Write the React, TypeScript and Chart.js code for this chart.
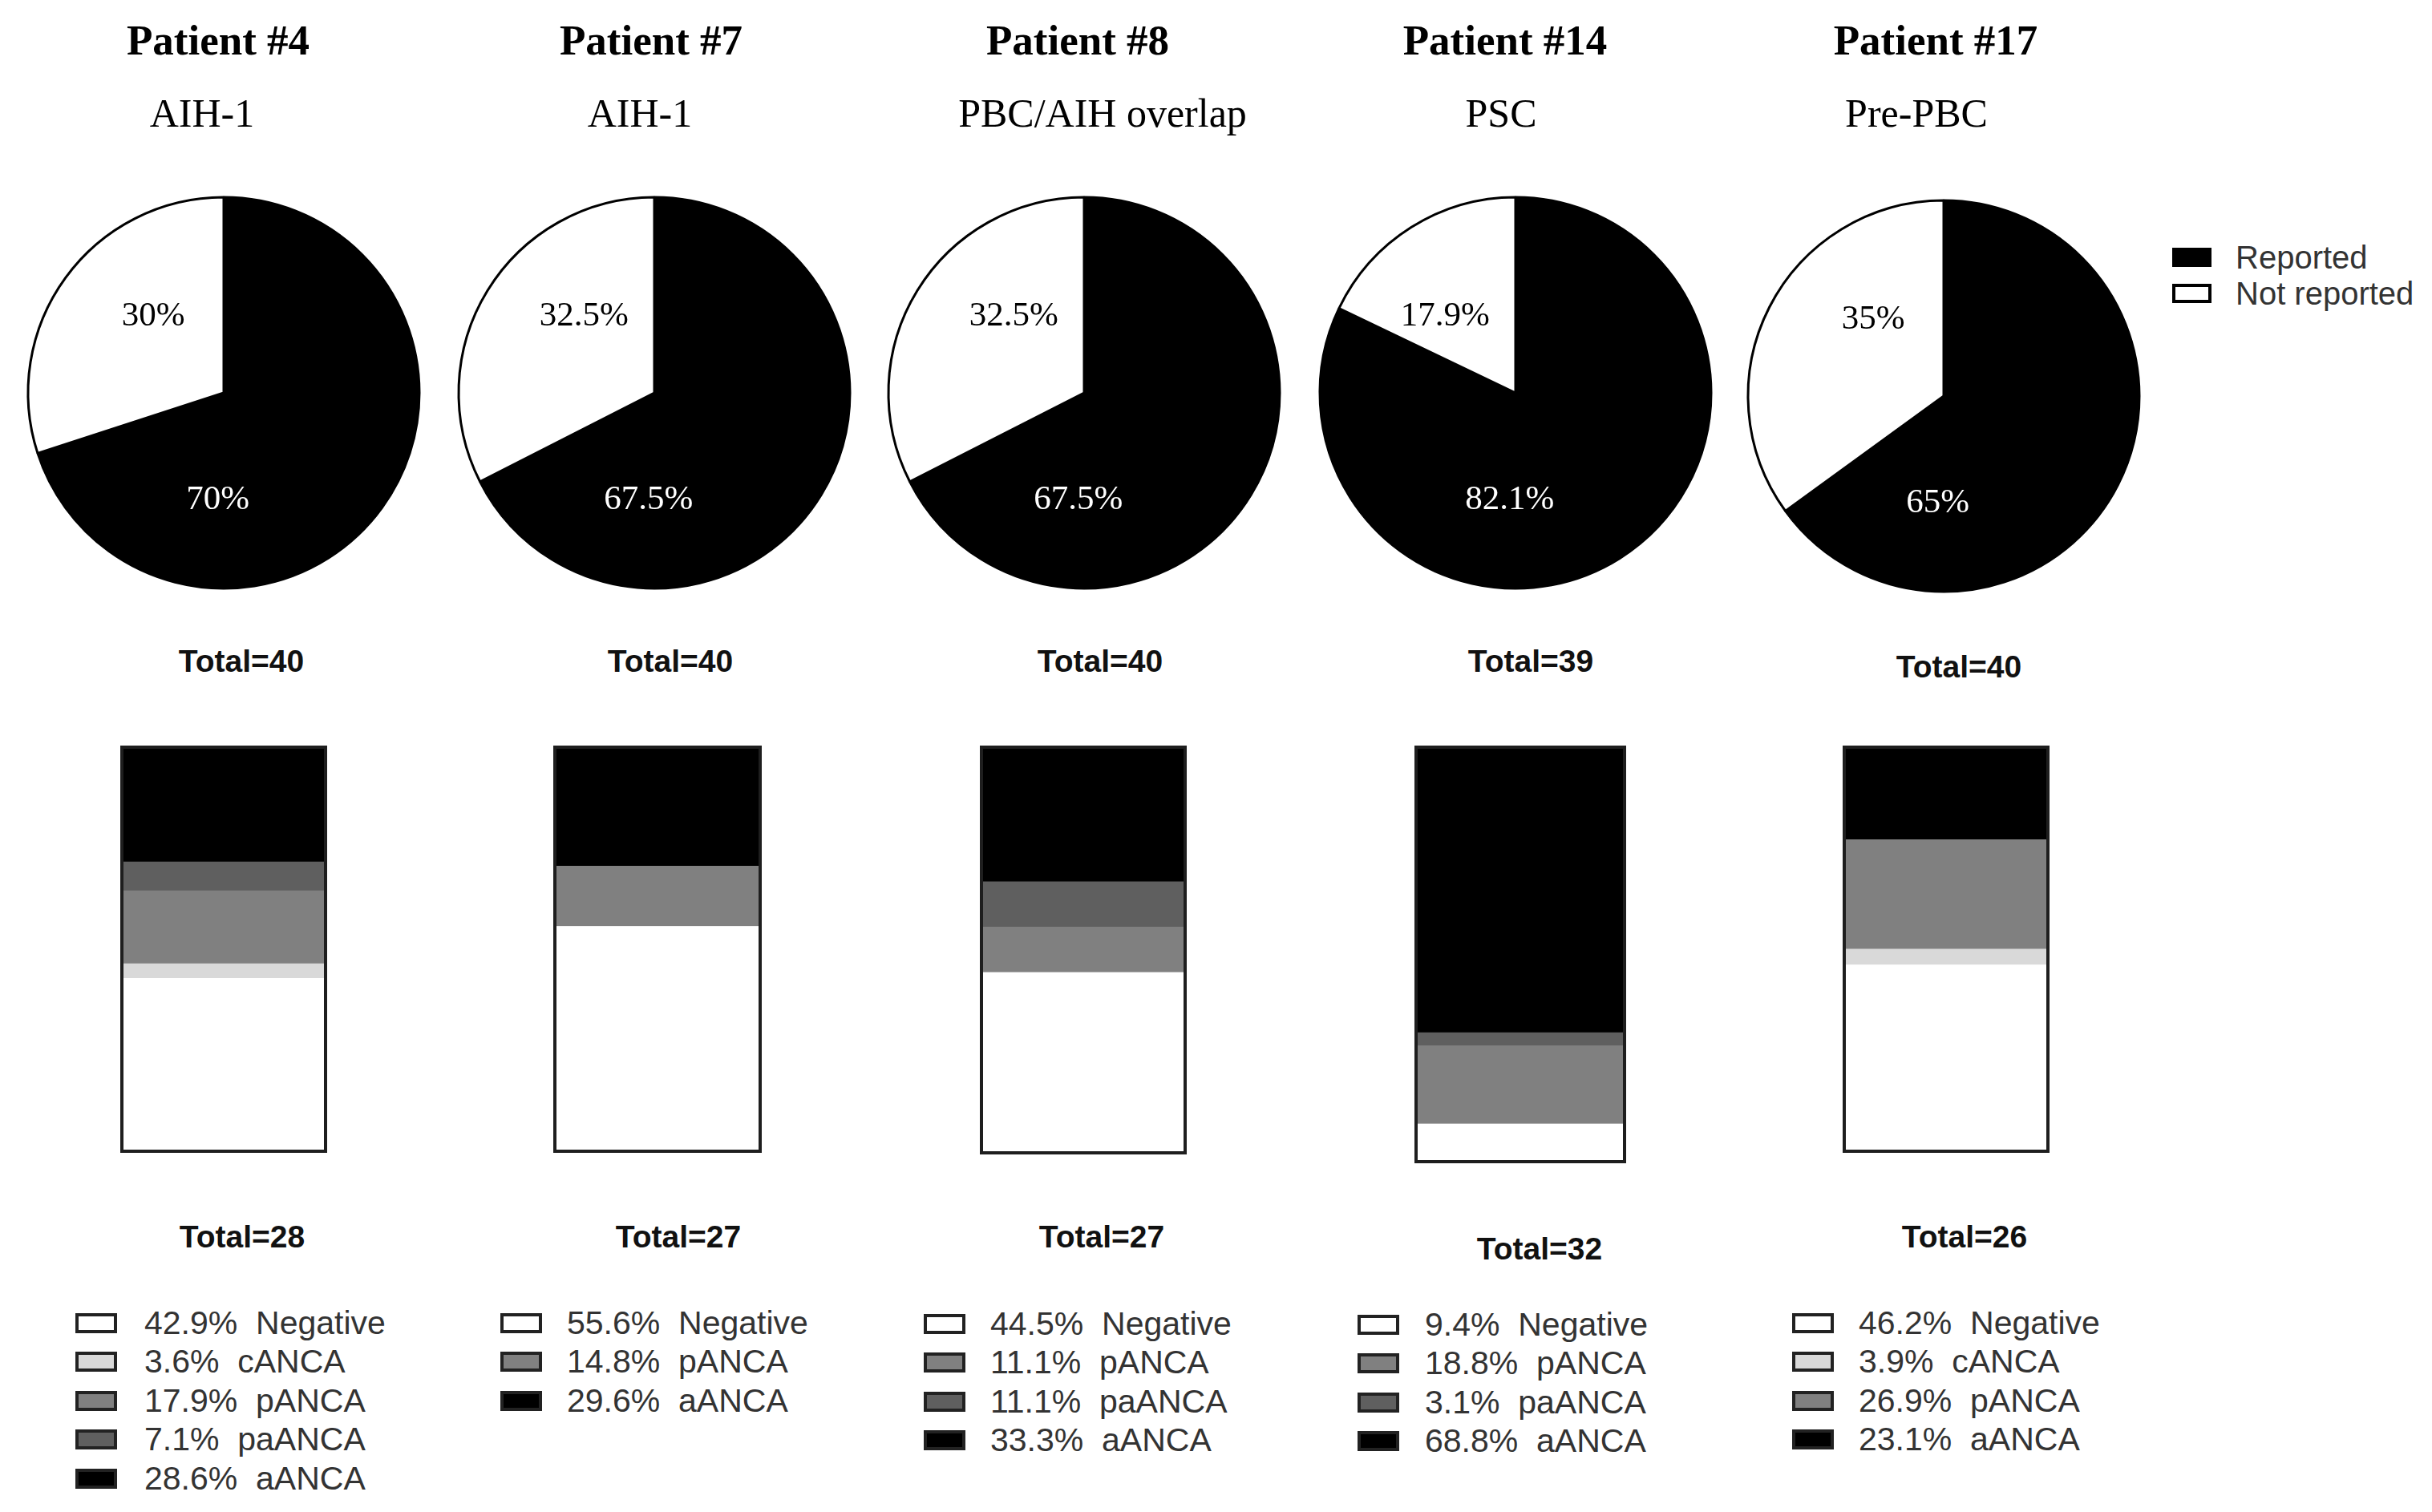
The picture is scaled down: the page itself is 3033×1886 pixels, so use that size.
import React, { useEffect, useRef } from "react";
import { Chart, registerables } from "chart.js";

Chart.register(...registerables);

// ---------------- data ----------------
const patients = ["Patient #4", "Patient #7", "Patient #8", "Patient #14", "Patient #17"];
const diagnoses = ["AIH-1", "AIH-1", "PBC/AIH overlap", "PSC", "Pre-PBC"];
const pieLegend = ["Reported", "Not reported"];
const reportedPct = [70, 67.5, 67.5, 82.1, 65];
const notReportedPct = [30, 32.5, 32.5, 17.9, 35];
const totalsTop = [40, 40, 40, 39, 40];
const totalsBottom = [28, 27, 27, 32, 26];
const ancaCategories = ["Negative", "cANCA", "pANCA", "paANCA", "aANCA"];
const negative = [42.9, 55.6, 44.5, 9.4, 46.2];
const cANCA = [3.6, 0, 0, 0, 3.9];
const pANCA = [17.9, 14.8, 11.1, 18.8, 26.9];
const paANCA = [7.1, 0, 11.1, 3.1, 0];
const aANCA = [28.6, 29.6, 33.3, 68.8, 23.1];

// ---------------- styles / layout ----------------
const SANS = "'Liberation Sans', Arial, sans-serif";
const SERIF = "'Liberation Serif', 'Times New Roman', serif";
const ancaColors = ["#ffffff", "#d9d9d9", "#808080", "#5f5f5f", "#000000"];
const pieColors = ["#000000", "#ffffff"];

const pieCenterX = [279, 816, 1352, 1890, 2424];
const pieCenterY = [490, 490, 490, 490, 494];
const PIE_R = 244;
const PIE_CANVAS = 520;
const titleX = [272, 812, 1344, 1877, 2414];
const subtitleX = [252, 798, 1375, 1872, 2390];
const TITLE_Y = 50;
const SUBTITLE_Y = 141;
const barLeft = [150, 690, 1222, 1764, 2298];
const barWidth = [258, 260, 258, 264, 258];
const BAR_TOP = 930;
const barHeight = [508, 508, 510, 521, 508];
const totalTopX = [301, 836, 1372, 1909, 2443];
const totalTopY = [824, 824, 824, 824, 831];
const totalBottomX = [302, 846, 1374, 1920, 2450];
const totalBottomY = [1542, 1542, 1542, 1557, 1542];
const legendBoxX = [94, 624, 1152, 1693, 2235];
const legendTextX = [180, 707, 1235, 1777, 2318];
const legendRowY0 = [1650, 1650, 1651, 1652, 1650];
const LEGEND_ROW_STEP = 48.5;

function seriesFor(idx: number): number[] {
  return [negative[idx], cANCA[idx], pANCA[idx], paANCA[idx], aANCA[idx]];
}

function PieChart({ idx }: { idx: number }) {
  const ref = useRef<HTMLCanvasElement>(null);
  useEffect(() => {
    const labelPlugin = {
      id: "pieLabels",
      afterDatasetsDraw(c: any) {
        const meta = c.getDatasetMeta(0);
        const arc: any = meta.data[0];
        const { x, y, outerRadius } = arc.getProps(["x", "y", "outerRadius"], true);
        const ctx = c.ctx;
        ctx.save();
        ctx.font = `43px ${SERIF}`;
        ctx.textAlign = "center";
        ctx.textBaseline = "middle";
        ctx.fillStyle = "#000";
        ctx.fillText(`${notReportedPct[idx]}%`, x - 0.36 * outerRadius, y - 0.39 * outerRadius);
        ctx.fillStyle = "#fff";
        ctx.fillText(`${reportedPct[idx]}%`, x - 0.03 * outerRadius, y + 0.55 * outerRadius);
        ctx.restore();
      },
    };
    const chart = new Chart(ref.current as HTMLCanvasElement, {
      type: "pie",
      data: {
        labels: pieLegend,
        datasets: [
          {
            data: [reportedPct[idx], notReportedPct[idx]],
            backgroundColor: pieColors,
            borderColor: "#000",
            borderWidth: 3,
            radius: PIE_R,
          } as any,
        ],
      },
      options: {
        responsive: false,
        animation: false,
        devicePixelRatio: 1,
        radius: PIE_R,
        layout: { padding: 0 },
        plugins: { legend: { display: false }, tooltip: { enabled: false } },
      } as any,
      plugins: [labelPlugin],
    });
    return () => chart.destroy();
  }, [idx]);
  return (
    <canvas
      ref={ref}
      width={PIE_CANVAS}
      height={PIE_CANVAS}
      style={{
        position: "absolute",
        left: pieCenterX[idx] - PIE_CANVAS / 2,
        top: pieCenterY[idx] - PIE_CANVAS / 2,
        width: PIE_CANVAS,
        height: PIE_CANVAS,
      }}
    />
  );
}

function BarChart({ idx }: { idx: number }) {
  const ref = useRef<HTMLCanvasElement>(null);
  useEffect(() => {
    const values = seriesFor(idx);
    const sum = values.reduce((a, b) => a + b, 0);
    const outline = {
      id: "outline",
      afterDatasetsDraw(c: any) {
        const bar: any = c.getDatasetMeta(0).data[0];
        const { x, width } = bar.getProps(["x", "width"], true);
        const yScale = c.scales.y;
        const top = yScale.getPixelForValue(sum);
        const bottom = yScale.getPixelForValue(0);
        const ctx = c.ctx;
        ctx.save();
        ctx.strokeStyle = "#1e1e1e";
        ctx.lineWidth = 4;
        ctx.strokeRect(x - width / 2 + 2, top + 2, width - 4, bottom - top - 4);
        ctx.restore();
      },
    };
    const chart = new Chart(ref.current as HTMLCanvasElement, {
      type: "bar",
      data: {
        labels: [patients[idx]],
        datasets: ancaCategories.map((name, k) => ({
          label: name,
          data: [values[k]],
          backgroundColor: ancaColors[k],
          borderWidth: 0,
          categoryPercentage: 1,
          barPercentage: 1,
        })),
      },
      options: {
        responsive: false,
        animation: false,
        devicePixelRatio: 1,
        layout: { padding: 0 },
        scales: {
          x: { display: false, stacked: true },
          y: { display: false, stacked: true, min: 0, max: sum },
        },
        plugins: { legend: { display: false }, tooltip: { enabled: false } },
      },
      plugins: [outline],
    });
    return () => chart.destroy();
  }, [idx]);
  return (
    <canvas
      ref={ref}
      width={barWidth[idx]}
      height={barHeight[idx]}
      style={{
        position: "absolute",
        left: barLeft[idx],
        top: BAR_TOP,
        width: barWidth[idx],
        height: barHeight[idx],
      }}
    />
  );
}

function CenteredText({ x, y, text, font, color = "#000" }: any) {
  return (
    <div
      style={{
        position: "absolute",
        left: x,
        top: y,
        transform: "translate(-50%, -50%)",
        font,
        lineHeight: 1,
        color,
        whiteSpace: "pre",
      }}
    >
      {text}
    </div>
  );
}

function AncaLegend({ idx }: { idx: number }) {
  const values = seriesFor(idx);
  const rows = ancaCategories
    .map((name, k) => ({ name, k, v: values[k] }))
    .filter((r) => r.v > 0);
  return (
    <>
      {rows.map((r, i) => (
        <div
          key={r.name}
          style={{
            position: "absolute",
            left: legendBoxX[idx],
            top: legendRowY0[idx] + i * LEGEND_ROW_STEP - 24,
            height: 48,
            display: "flex",
            alignItems: "center",
          }}
        >
          <div
            style={{
              width: 52,
              height: 25,
              boxSizing: "border-box",
              border: "4px solid #222",
              background: ancaColors[r.k],
            }}
          />
          <div
            style={{
              marginLeft: legendTextX[idx] - legendBoxX[idx] - 52,
              font: `41px ${SANS}`,
              color: "#333",
              whiteSpace: "pre",
              lineHeight: 1,
            }}
          >
            {`${r.v}%  ${r.name}`}
          </div>
        </div>
      ))}
    </>
  );
}

function PieLegend() {
  return (
    <>
      {pieLegend.map((name, i) => (
        <div
          key={name}
          style={{
            position: "absolute",
            left: 2709,
            top: 321 + i * 45 - 22,
            height: 44,
            display: "flex",
            alignItems: "center",
          }}
        >
          <div
            style={{
              width: 49,
              height: 24,
              boxSizing: "border-box",
              border: "4px solid #000",
              background: pieColors[i],
            }}
          />
          <div style={{ marginLeft: 30, font: `40px ${SANS}`, color: "#333", lineHeight: 1 }}>{name}</div>
        </div>
      ))}
    </>
  );
}

export default function App() {
  return (
    <div
      style={{
        position: "absolute",
        left: 0,
        top: 0,
        width: 3033,
        height: 1886,
        background: "#fff",
        overflow: "hidden",
      }}
    >
      {patients.map((p, i) => (
        <React.Fragment key={p}>
          <CenteredText x={titleX[i]} y={TITLE_Y} text={p} font={`bold 53px ${SERIF}`} />
          <CenteredText x={subtitleX[i]} y={SUBTITLE_Y} text={diagnoses[i]} font={`50px ${SERIF}`} />
          <PieChart idx={i} />
          <CenteredText
            x={totalTopX[i]}
            y={totalTopY[i]}
            text={`Total=${totalsTop[i]}`}
            font={`bold 39px ${SANS}`}
            color="#111"
          />
          <BarChart idx={i} />
          <CenteredText
            x={totalBottomX[i]}
            y={totalBottomY[i]}
            text={`Total=${totalsBottom[i]}`}
            font={`bold 39px ${SANS}`}
            color="#111"
          />
          <AncaLegend idx={i} />
        </React.Fragment>
      ))}
      <PieLegend />
    </div>
  );
}
